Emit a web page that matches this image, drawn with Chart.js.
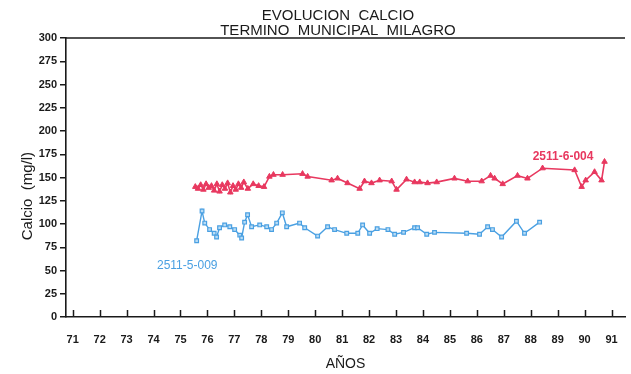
<!DOCTYPE html>
<html><head><meta charset="utf-8">
<script src="https://cdn.jsdelivr.net/npm/chart.js@4"></script>
<style>html,body{margin:0;padding:0;background:#fff}</style>
</head><body>
<canvas id="c" width="631" height="374"></canvas>
<script>
// Chart text
const titleLines = ['EVOLUCION  CALCIO', 'TERMINO  MUNICIPAL  MILAGRO'];
const yTitle = 'Calcio  (mg/l)';
const xTitle = 'AÑOS';

// Axis ticks
const yearTicks = [71,72,73,74,75,76,77,78,79,80,81,82,83,84,85,86,87,88,89,90,91];
const calcioTicks = [0,25,50,75,100,125,150,175,200,225,250,275,300];

// Well 2511-6-004
const redName = '2511-6-004';
const redYears = [75.55,75.65,75.75,75.85,75.95,76.05,76.15,76.25,76.35,76.45,76.55,76.65,76.75,76.85,76.95,77.05,77.15,77.25,77.35,77.5,77.7,77.9,78.1,
  78.3,78.45,78.79,79.53,79.72,80.61,80.83,81.2,81.65,81.83,82.09,82.39,82.84,83.02,83.39,83.69,83.88,84.17,84.51,85.17,85.66,86.18,86.51,86.66,86.96,87.51,87.88,88.44,
  89.63,89.89,90.04,90.37,90.63,90.74];
const redCalcio = [140,138,142,137,143,139,141,136,143,135,142,138,144,134,141,137,143,139,145,138,143,141,140,
  151,153,153,154,151,147,149,144,138,146,144,147,146,137,148,145,145,144,145,149,146,146,152,149,143,152,149,160,
  158,140,147,156,147,167];

// Well 2511-5-009
const blueName = '2511-5-009';
const blueYears = [75.6,75.8,75.9,76.08,76.25,76.34,76.45,76.64,76.83,77.01,77.2,77.27,77.38,77.49,77.64,77.94,78.2,78.38,78.57,78.78,78.94,
  79.42,79.61,80.09,80.46,80.72,81.17,81.58,81.76,82.02,82.3,82.7,82.95,83.28,83.69,83.8,84.14,84.43,85.62,86.1,86.4,86.58,86.92,87.47,87.77,88.33];
const blueCalcio = [82,114,101,94,90,86,96,99,97,94,88,85,102,110,97,99,97,94,101,112,97,
  101,96,87,97,94,90,90,99,90,95,94,89,91,96,96,89,91,90,89,97,94,86,103,90,102];

// Series label anchors (year, calcio)
const redLabelAt = [89.2, 172];
const blueLabelAt = [75.25, 55];
// Vertical position of the y-axis title (calcio value at its centre)
const yTitleAt = 130;

const RED = '#e8385f';
const BLUE = '#4aa0e2';
const INK = '#1a1a1a';

const toPoints = (xs, ys) => xs.map((x, i) => ({x, y: ys[i]}));

const decor = {
  id: 'decor',
  afterDraw(chart) {
    const {ctx, chartArea: a, scales: {x, y}} = chart;
    ctx.save();
    // title
    ctx.fillStyle = INK;
    ctx.textAlign = 'center';
    ctx.textBaseline = 'middle';
    ctx.font = '15px "Liberation Sans Narrow", "Liberation Sans", Arial, sans-serif';
    ctx.fillText(titleLines[0], 338, 16);
    ctx.fillText(titleLines[1], 338, 31);
    // y-axis title
    ctx.save();
    ctx.translate(28, y.getPixelForValue(yTitleAt));
    ctx.rotate(-Math.PI / 2);
    ctx.font = '15px "Liberation Sans", Arial, sans-serif';
    ctx.fillText(yTitle, 0, 0);
    ctx.restore();
    // inward year ticks
    ctx.strokeStyle = INK;
    ctx.lineWidth = 1.5;
    yearTicks.forEach(v => {
      const px = Math.round(x.getPixelForValue(v)) + 0.5;
      ctx.beginPath();
      ctx.moveTo(px, a.bottom);
      ctx.lineTo(px, a.bottom - 7);
      ctx.stroke();
    });
    // top frame line
    ctx.beginPath();
    ctx.moveTo(a.left, a.top);
    ctx.lineTo(a.right, a.top);
    ctx.stroke();
    // series labels
    ctx.font = 'bold 12px "Liberation Sans", Arial, sans-serif';
    ctx.fillStyle = RED;
    ctx.fillText(redName, x.getPixelForValue(redLabelAt[0]), y.getPixelForValue(redLabelAt[1]));
    ctx.font = '12px "Liberation Sans", Arial, sans-serif';
    ctx.fillStyle = BLUE;
    ctx.fillText(blueName, x.getPixelForValue(blueLabelAt[0]), y.getPixelForValue(blueLabelAt[1]));
    ctx.restore();
  }
};

new Chart(document.getElementById('c'), {
  type: 'line',
  data: {
    datasets: [
      {
        label: redName,
        data: toPoints(redYears, redCalcio),
        borderColor: RED,
        backgroundColor: RED,
        borderWidth: 1.6,
        pointStyle: 'triangle',
        pointRadius: 3.2,
        pointBorderWidth: 1,
        tension: 0
      },
      {
        label: blueName,
        data: toPoints(blueYears, blueCalcio),
        borderColor: BLUE,
        backgroundColor: '#b9dcf5',
        borderWidth: 1.4,
        pointStyle: 'rect',
        pointRadius: 2.6,
        pointBorderWidth: 1.2,
        tension: 0
      }
    ]
  },
  options: {
    responsive: false,
    animation: false,
    devicePixelRatio: 1,
    layout: {padding: {top: 38, right: 6, left: 0, bottom: 0}},
    plugins: {legend: {display: false}, tooltip: {enabled: false}, title: {display: false}},
    scales: {
      x: {
        type: 'linear',
        min: 70.75,
        max: 91.5,
        afterBuildTicks: s => { s.ticks = yearTicks.map(v => ({value: v})); },
        afterFit: s => { s.height = 57; s.paddingLeft = 0; s.paddingRight = 0; },
        grid: {display: false, drawTicks: false},
        border: {display: true, color: INK, width: 1.6},
        ticks: {
          color: INK,
          padding: 16,
          maxRotation: 0,
          autoSkip: false,
          font: {family: '"Liberation Sans", Arial, sans-serif', size: 11, weight: 'bold'},
          callback: v => String(v)
        },
        title: {
          display: true,
          text: xTitle,
          color: INK,
          padding: {top: 4, bottom: 1},
          font: {family: '"Liberation Sans Narrow", "Liberation Sans", Arial, sans-serif', size: 14}
        }
      },
      y: {
        min: 0,
        max: 300,
        afterBuildTicks: s => { s.ticks = calcioTicks.map(v => ({value: v})); },
        afterFit: s => { s.width = 66; s.paddingTop = 0; s.paddingBottom = 0; },
        grid: {drawOnChartArea: false, drawTicks: true, tickLength: 6, color: INK, lineWidth: 1.5},
        border: {display: true, color: INK, width: 1.6},
        ticks: {
          color: INK,
          padding: 3,
          autoSkip: false,
          font: {family: '"Liberation Sans", Arial, sans-serif', size: 11, weight: 'bold'}
        },
        title: {display: false}
      }
    }
  },
  plugins: [decor]
});
</script>
</body></html>
